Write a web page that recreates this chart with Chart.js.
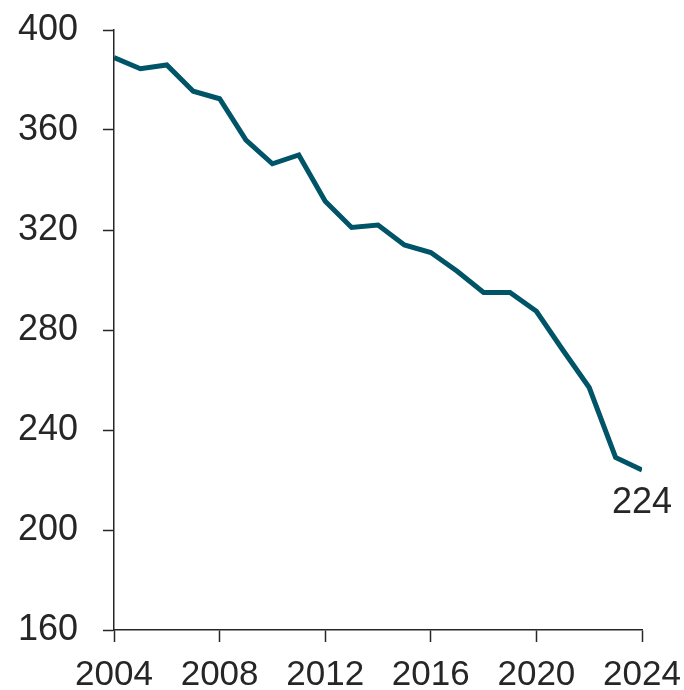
<!DOCTYPE html>
<html>
<head>
<meta charset="utf-8">
<script src="https://cdn.jsdelivr.net/npm/chart.js@4/dist/chart.umd.min.js"></script>
<style>
  html, body { margin: 0; padding: 0; background: #fff; }
  #wrap { width: 684px; height: 690px; }
</style>
</head>
<body>
<div id="wrap"><canvas id="lineChart" width="684" height="690"></canvas></div>
<script>
// ---------- data ----------
const years = [2004, 2005, 2006, 2007, 2008, 2009, 2010, 2011, 2012, 2013, 2014,
               2015, 2016, 2017, 2018, 2019, 2020, 2021, 2022, 2023, 2024];
const values = [389, 384.5, 386, 375.5, 372.5, 356, 346.5, 350, 331.5, 321, 322,
                314, 311, 303.5, 295, 295, 287.5, 272, 257, 229, 224];
const yTicks = [160, 200, 240, 280, 320, 360, 400];
const xTicks = [2004, 2008, 2012, 2016, 2020, 2024];
const endLabel = '224';

const LINE = '#005468';
const INK = '#262626';
const FONT = "'Liberation Sans', Arial, sans-serif";

// no label overhang: plot box is set by layout padding only
const noOverhang = (s) => {
  s.paddingTop = 0; s.paddingBottom = 0;
  s.paddingLeft = 0; s.paddingRight = 0;
};

// label under the last point
const endLabelPlugin = {
  id: 'endLabel',
  afterDatasetsDraw(chart) {
    const { ctx, scales: { x, y } } = chart;
    const i = values.length - 1;
    const px = x.getPixelForValue(years[i]);
    const py = y.getPixelForValue(values[i]);
    ctx.save();
    ctx.font = `36px ${FONT}`;
    ctx.fillStyle = INK;
    ctx.textAlign = 'center';
    ctx.textBaseline = 'middle';
    ctx.fillText(endLabel, px, py + 33);
    ctx.restore();
  }
};

new Chart(document.getElementById('lineChart'), {
  type: 'line',
  data: {
    datasets: [{
      data: years.map((yr, i) => ({ x: yr, y: values[i] })),
      borderColor: LINE,
      borderWidth: 5,
      pointRadius: 0,
      tension: 0,
      borderJoinStyle: 'miter',
      fill: false
    }]
  },
  options: {
    responsive: false,
    animation: false,
    layout: { padding: { top: 30, right: 42, left: 0, bottom: 0 } },
    plugins: { legend: { display: false }, tooltip: { enabled: false } },
    scales: {
      x: {
        type: 'linear',
        min: 2004,
        max: 2024,
        afterFit: (s) => { s.height = 60; noOverhang(s); },
        afterBuildTicks: (s) => { s.ticks = xTicks.map(v => ({ value: v })); },
        grid: { drawOnChartArea: false, tickLength: 12, tickColor: INK, tickWidth: 1.5 },
        border: { display: true, color: INK, width: 1.5 },
        ticks: {
          font: { family: FONT, size: 35 },
          color: INK,
          padding: 12,
          maxRotation: 0,
          callback: (v) => String(v)
        }
      },
      y: {
        min: 160,
        max: 400,
        afterFit: (s) => { s.width = 114; noOverhang(s); },
        afterBuildTicks: (s) => { s.ticks = yTicks.map(v => ({ value: v })); },
        grid: { drawOnChartArea: false, tickLength: 11, tickColor: INK, tickWidth: 1.5 },
        border: { display: true, color: INK, width: 1.5 },
        ticks: {
          font: { family: FONT, size: 36 },
          color: INK,
          padding: 25,
          callback: (v) => String(v)
        }
      }
    }
  },
  plugins: [endLabelPlugin]
});
</script>
</body>
</html>
